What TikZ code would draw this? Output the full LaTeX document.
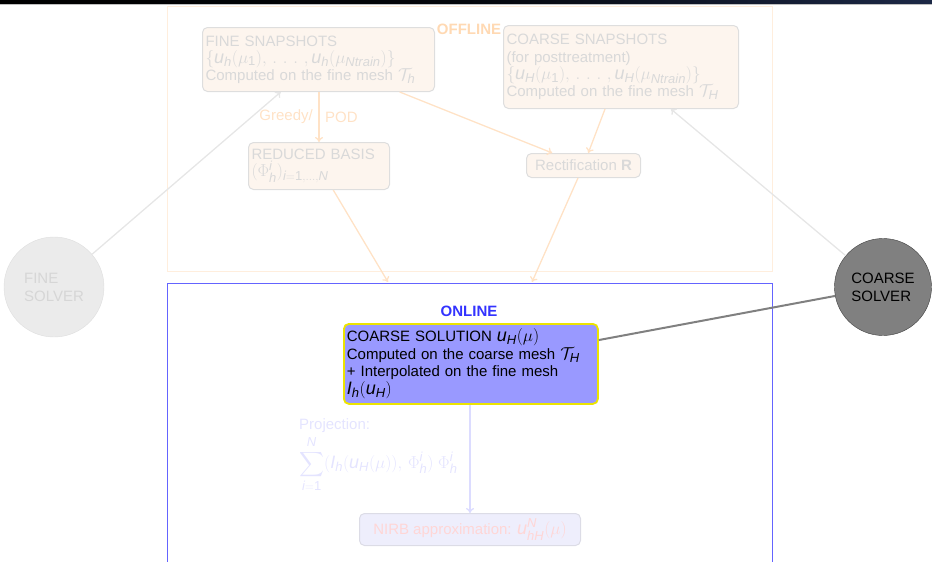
\documentclass[tikz,border=0pt]{standalone}
\usepackage{amsmath}
\usepackage{mathspec}
\setmainfont{Liberation Sans}
\setmathsfont(Digits,Latin){Liberation Sans}
\DeclareMathSizes{15}{18}{13}{10}
\usetikzlibrary{arrows.meta,calc}
\definecolor{offfill}{HTML}{FDF5EE}
\definecolor{boxgray}{HTML}{DEDEDE}
\definecolor{offtext}{HTML}{D9D9D9}
\definecolor{offarrow}{HTML}{FFE2C6}
\definecolor{offborder}{HTML}{FFEEDD}
\definecolor{offlabel}{HTML}{FFD9B3}
\definecolor{solvline}{HTML}{E6E6E6}
\definecolor{fsfill}{HTML}{EBEBEB}
\definecolor{fstext}{HTML}{D6D6D6}
\definecolor{onborder}{HTML}{6464FF}
\definecolor{onlabel}{HTML}{3333FF}
\definecolor{csfill}{HTML}{9999FF}
\definecolor{csborder}{HTML}{ECE400}
\definecolor{onarrow}{HTML}{DCDCFF}
\definecolor{projtext}{HTML}{E4E4FF}
\definecolor{nirbfill}{HTML}{EEEEFC}
\definecolor{nirbborder}{HTML}{DCDCE6}
\definecolor{nirbtext}{HTML}{FFD6D6}
\definecolor{barnavy}{HTML}{1C2846}
\newcommand{\fs}{\fontsize{15}{18}\selectfont}
\newcommand{\mydots}{\,\ldotp\,\ldotp\,\ldotp\,}
\tikzset{
  offbox/.style={draw=boxgray, fill=offfill, rounded corners=5pt, text=offtext,
    align=left, inner xsep=3pt, inner ysep=2pt, line width=1pt, anchor=north west, font=\fs},
  offarr/.style={draw=offarrow, line width=1.3pt, -{To[length=5pt,width=8pt]}},
  solvarr/.style={draw=solvline, line width=1.3pt, -{To[length=5pt,width=8pt]}},
  onarr/.style={draw=onarrow, line width=1.3pt, -{To[length=5pt,width=8pt]}},
  solver/.style={circle, minimum size=#1, inner sep=0pt, align=left, font=\fs},
}
\begin{document}
\begin{tikzpicture}[x=1pt,y=-1pt]
\useasboundingbox (0,0) rectangle (932,562);
\clip (0,0) rectangle (932,562);
% top bar
\shade[left color=black, right color=barnavy, middle color=black!85!barnavy] (0,0) rectangle (932,4);
\draw[color=black!25, line width=0.8pt] (0,4.4) -- (932,4.4);
% offline frame
\node[draw=offborder, line width=1pt, minimum width=605, minimum height=265, anchor=north west, inner sep=0pt] (offline) at (167,6) {};
\node[text=offlabel, font=\fs\bfseries] (offlab) at (469,29) {OFFLINE};
% online frame
\node[draw=onborder, line width=1pt, minimum width=605, minimum height=300, anchor=north west, inner sep=0pt] (online) at (167,283) {};
\node[text=onlabel, font=\fs\bfseries] (onlab) at (469,311) {ONLINE};
\coordinate (in1) at (388,282);
\coordinate (in2) at (532,282);
% offline boxes
\node[offbox, text width=226, minimum height=64] (fine) at (202,27)
  {FINE SNAPSHOTS\\[-1pt] $\{u_h(\mu_1),\mydots,u_h(\mu_{Ntrain})\}$\\[-1pt] Computed on the fine mesh $\mathcal{T}_h$};
\node[offbox, text width=229, minimum height=83] (coarse) at (503,25)
  {COARSE SNAPSHOTS\\ (for posttreatment)\\[-1pt] $\{u_H(\mu_1),\mydots,u_H(\mu_{Ntrain})\}$\\[-1pt] Computed on the fine mesh $\mathcal{T}_H$};
\node[offbox, text width=135, minimum height=47] (reduced) at (248,142)
  {REDUCED BASIS\\[-1pt] $(\Phi_h^i)_{i=1,\ldots,N}$};
\node[offbox, align=center, minimum width=114, minimum height=24] (rect) at (526,153)
  {Rectification \textbf{R}};
% solvers
\node[solver=100, draw=boxgray, fill=fsfill, text=fstext] (fsolver) at (54,287) {FINE\\SOLVER};
\node[solver=97, draw=black!75, fill=black!50, text=black] (csolver) at (883,287) {COARSE\\SOLVER};
% online boxes
\node[draw=csborder, fill=csfill, line width=1.8pt, rounded corners=5pt, text=black, align=left,
  text width=248, inner xsep=3pt, inner ysep=1pt, minimum height=80, anchor=north west, font=\fs]
  (csol) at (343,323)
  {COARSE SOLUTION $u_H(\mu)$\\[-0.5pt] Computed on the coarse mesh $\mathcal{T}_H$\\[-0.5pt] + Interpolated on the fine mesh\\[-0.5pt] $I_h(u_H)$};
\node[draw=nirbborder, fill=nirbfill, line width=1pt, rounded corners=5pt, text=nirbtext,
  minimum width=221, minimum height=32, anchor=north west, inner sep=0pt, font=\fs] (nirb) at (359,513)
  {NIRB approximation: $u_{hH}^N(\mu)$};
\node[text=projtext, align=left, anchor=north west, inner sep=0pt, font=\fs] (proj) at (299,418)
  {Projection:\\[3pt] $\displaystyle\sum_{i=1}^N (I_h(u_H(\mu)),\,\Phi_h^i)\;\Phi_h^i$};
% labels
\node[text=offarrow, anchor=east, inner sep=0pt, font=\fs] (greedy) at (313,117) {Greedy/};
\node[text=offarrow, anchor=west, inner sep=0pt, font=\fs] (pod) at (325,117) {POD};
% connectors
\draw[offarr] (fine.south -| reduced.center) -- (reduced.north -| reduced.center);
\draw[offarr] (fine) -- (rect);
\draw[offarr] (coarse) -- (rect);
\draw[offarr] (reduced) -- (in1);
\draw[offarr] (rect) -- (in2);
\draw[solvarr] (fsolver) -- (fine);
\draw[solvarr] (csolver) -- (coarse);
\draw[draw=black!50, line width=2pt] (csolver) -- (csol);
\draw[onarr] (csol.south -| nirb.north) -- (nirb.north);
\end{tikzpicture}
\end{document}
